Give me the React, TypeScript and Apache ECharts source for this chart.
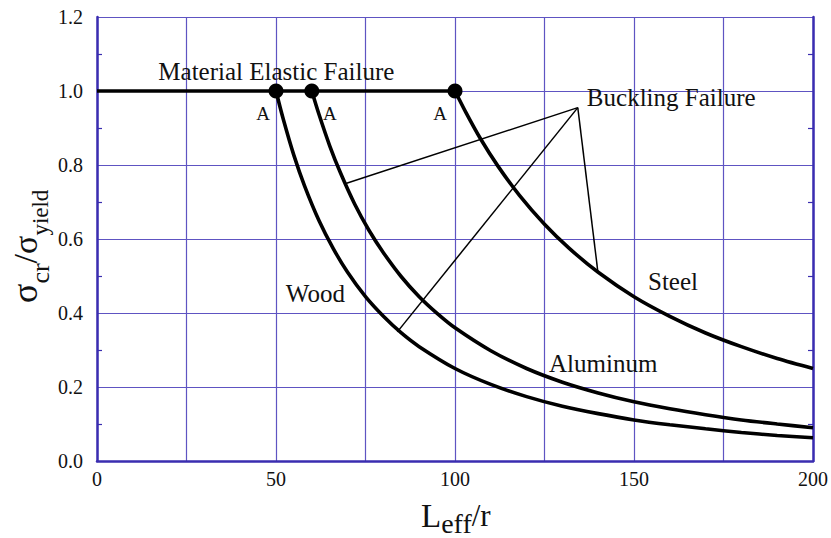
import React, { useEffect, useRef } from "react";
import * as echarts from "echarts";

// ---- data ----
const xTicksMajor = [0, 50, 100, 150, 200];
const yTicks = [0.0, 0.2, 0.4, 0.6, 0.8, 1.0, 1.2];

const elasticX = [0, 100];
const elasticY = [1.0, 1.0];

const woodX = [50, 52, 55, 58, 62, 66, 70, 75, 80, 85, 90, 100, 110, 120, 130, 140, 150, 160, 170, 180, 190, 200];
const woodY = [1.0, 0.925, 0.826, 0.743, 0.65, 0.574, 0.51, 0.444, 0.391, 0.346, 0.309, 0.25, 0.207, 0.174, 0.148, 0.128, 0.111, 0.098, 0.087, 0.077, 0.069, 0.063];

const aluX = [60, 62, 65, 68, 72, 76, 80, 85, 90, 95, 100, 110, 120, 130, 140, 150, 160, 170, 180, 190, 200];
const aluY = [1.0, 0.937, 0.852, 0.779, 0.694, 0.623, 0.563, 0.498, 0.444, 0.399, 0.36, 0.298, 0.25, 0.213, 0.184, 0.16, 0.141, 0.125, 0.111, 0.1, 0.09];

const steelX = [100, 103, 107, 112, 118, 125, 132, 140, 150, 160, 170, 180, 190, 200];
const steelY = [1.0, 0.943, 0.873, 0.797, 0.718, 0.64, 0.574, 0.51, 0.444, 0.391, 0.346, 0.309, 0.277, 0.25];

// transition points "A"
const pointX = [50, 60, 100];
const pointY = [1.0, 1.0, 1.0];
const pointLabels = ["A", "A", "A"];
const pointLabelOffsets = [[-13, 22], [18, 22], [-15, 22]];

// leader lines for "Buckling Failure"
const leaderApex = [134.3, 0.955];
const leaderEndsX = [69.5, 83.9, 139.9];
const leaderEndsY = [0.75, 0.349, 0.512];

// text annotations
const noteTexts = ["Material Elastic Failure", "Buckling Failure", "Steel", "Aluminum", "Wood"];
const noteX = [50.1, 160.4, 160.9, 141.4, 61.0];
const noteY = [1.052, 0.982, 0.484, 0.264, 0.452];

// axis titles: [text, fontSize, baseline shift]
const xTitleParts: [string, number, number][] = [["L", 33, 0], ["eff", 28, 5], ["/r", 31, -1]];
const yTitleParts: [string, number, number][] = [["σ", 36, 0], ["cr", 26, 10], ["/σ", 34, -1], ["yield", 23, 9]];

const FONT = "Liberation Serif";
const GRID_COLOR = "#5e54c2";
const AXIS_COLOR = "#3a2db0";
const TEXT_COLOR = "#111";

const zip = (xs: number[], ys: number[]) => xs.map((x, i) => [x, ys[i]]);

function measure(text: string, size: number): number {
  const c = document.createElement("canvas").getContext("2d");
  if (!c) return text.length * size * 0.5;
  c.font = `${size}px '${FONT}'`;
  return c.measureText(text).width;
}

// lay out title pieces along a baseline; returns text elements in local coords
function titlePieces(parts: [string, number, number][], baseline: number) {
  let x = 0;
  return parts.map(([t, size, shift]) => {
    const el = {
      type: "text",
      x,
      y: baseline + shift,
      style: { text: t, font: `${size}px '${FONT}'`, fill: TEXT_COLOR, align: "left", verticalAlign: "bottom" },
    };
    x += measure(t, size);
    return el;
  });
}

export default function App() {
  const ref = useRef<HTMLDivElement>(null);
  useEffect(() => {
    if (!ref.current) return;
    const chart = echarts.init(ref.current, undefined, { renderer: "svg" });
    const curveStyle = { color: "#000", width: 3.6 };
    const option: any = {
      animation: false,
      backgroundColor: "#fff",
      grid: { left: 97, right: 16, top: 17, bottom: 77 },
      xAxis: {
        type: "value",
        min: 0,
        max: 200,
        interval: 25,
        axisLine: { show: true, onZero: false, lineStyle: { color: AXIS_COLOR, width: 2.5 } },
        axisTick: { show: false },
        axisLabel: {
          fontFamily: FONT,
          fontSize: 20,
          color: TEXT_COLOR,
          margin: 8,
          formatter: (v: number) => (xTicksMajor.includes(v) ? String(v) : ""),
        },
        splitLine: { show: true, lineStyle: { color: GRID_COLOR, width: 1.2 } },
      },
      yAxis: [
        {
          type: "value",
          min: yTicks[0],
          max: yTicks[yTicks.length - 1],
          interval: 0.2,
          axisLine: { show: true, onZero: false, lineStyle: { color: AXIS_COLOR, width: 2.5 } },
          axisTick: { show: false, inside: true },
          minorTick: { show: true, splitNumber: 2, length: 5, lineStyle: { color: AXIS_COLOR, width: 1.2 } },
          axisLabel: {
            fontFamily: FONT,
            fontSize: 20,
            color: TEXT_COLOR,
            margin: 14,
            formatter: (v: number) => v.toFixed(1),
          },
          splitLine: { show: true, lineStyle: { color: GRID_COLOR, width: 1.2 } },
        },
        {
          type: "value",
          position: "right",
          min: yTicks[0],
          max: yTicks[yTicks.length - 1],
          interval: 0.2,
          axisLine: { show: true, onZero: false, lineStyle: { color: AXIS_COLOR, width: 2.5 } },
          axisTick: { show: false, inside: true },
          minorTick: { show: true, splitNumber: 2, length: 5, lineStyle: { color: AXIS_COLOR, width: 1.2 } },
          axisLabel: { show: false },
          splitLine: { show: false },
        },
      ],
      series: [
        {
          type: "lines",
          coordinateSystem: "cartesian2d",
          z: 2,
          lineStyle: { color: "#000", width: 1.5, opacity: 1 },
          data: leaderEndsX.map((x, i) => ({ coords: [leaderApex, [x, leaderEndsY[i]]] })),
        },
        {
          type: "line",
          name: "elastic",
          data: zip(elasticX, elasticY),
          symbol: "none",
          lineStyle: curveStyle,
          z: 3,
        },
        {
          type: "line",
          name: "Wood",
          data: zip(woodX, woodY),
          symbol: "none",
          smooth: 0.3,
          lineStyle: curveStyle,
          z: 3,
        },
        {
          type: "line",
          name: "Aluminum",
          data: zip(aluX, aluY),
          symbol: "none",
          smooth: 0.3,
          lineStyle: curveStyle,
          z: 3,
        },
        {
          type: "line",
          name: "Steel",
          data: zip(steelX, steelY),
          symbol: "none",
          smooth: 0.3,
          lineStyle: curveStyle,
          z: 3,
        },
        {
          type: "scatter",
          name: "A points",
          symbol: "circle",
          symbolSize: 15,
          itemStyle: { color: "#000", opacity: 1 },
          z: 5,
          data: pointX.map((x, i) => ({
            value: [x, pointY[i]],
            label: {
              show: true,
              formatter: pointLabels[i],
              position: "inside",
              offset: pointLabelOffsets[i],
              fontFamily: FONT,
              fontSize: 19,
              color: TEXT_COLOR,
            },
          })),
        },
        {
          type: "scatter",
          name: "notes",
          symbolSize: 0,
          silent: true,
          itemStyle: { opacity: 1 },
          z: 6,
          data: noteTexts.map((t, i) => ({
            value: [noteX[i], noteY[i]],
            label: {
              show: true,
              formatter: t,
              position: "inside",
              fontFamily: FONT,
              fontSize: 25,
              color: TEXT_COLOR,
            },
          })),
        },
      ],
      graphic: [
        {
          type: "group",
          x: 421,
          y: 0,
          children: titlePieces(xTitleParts, 532),
        },
        {
          type: "group",
          x: 0,
          y: 303,
          rotation: Math.PI / 2,
          children: titlePieces(yTitleParts, 43),
        },
      ],
    };
    chart.setOption(option);
    return () => chart.dispose();
  }, []);
  return (
    <div
      ref={ref}
      style={{ position: "fixed", left: 0, top: 0, width: 831, height: 538, background: "#fff" }}
    />
  );
}
